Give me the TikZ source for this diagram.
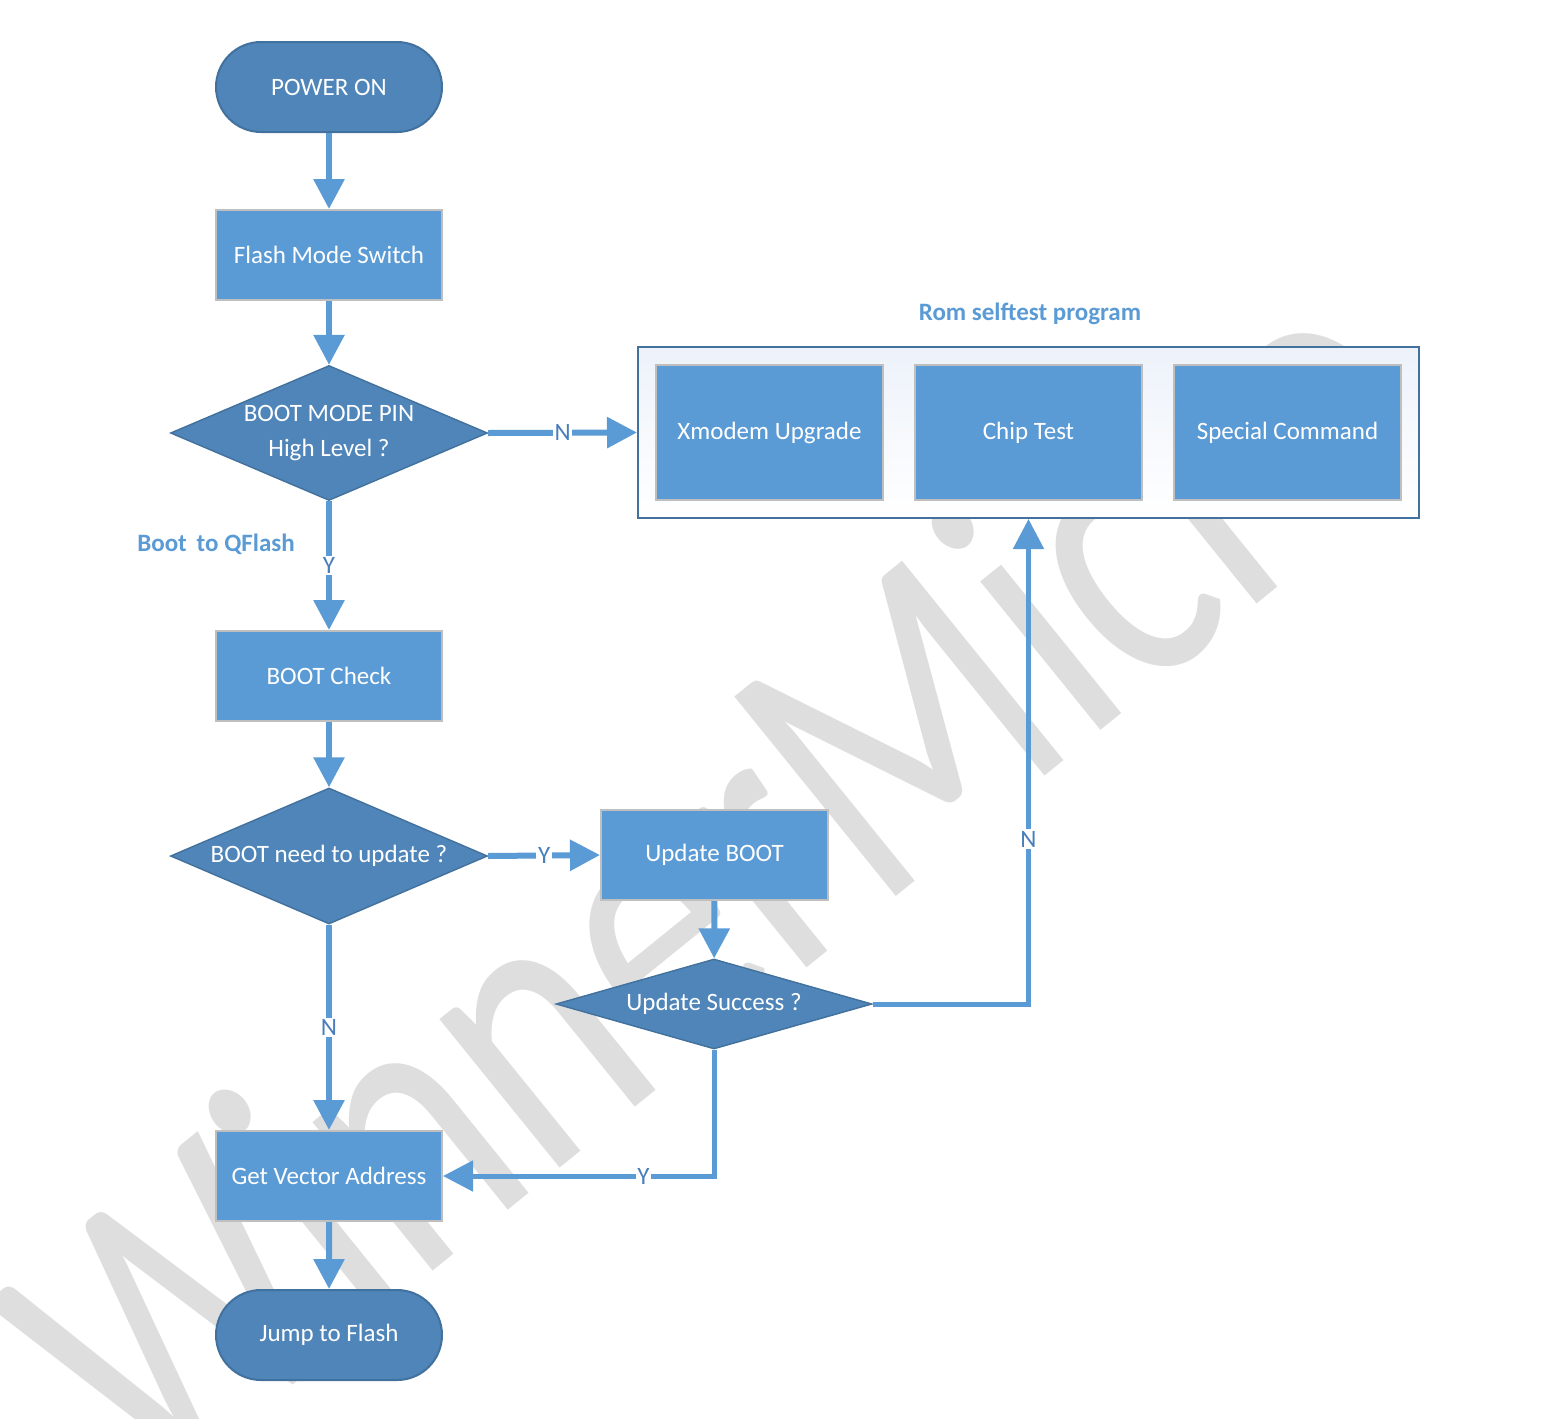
\documentclass[tikz,border=0pt]{standalone}
\usepackage{fontspec}
\setmainfont{Carlito}
\newfontfamily\wmfont[FakeStretch=0.78]{Carlito}
\usetikzlibrary{shapes.geometric,shapes.misc,arrows.meta}
\definecolor{darkfill}{HTML}{4F85B9}
\definecolor{darkline}{HTML}{41719C}
\definecolor{boxfill}{HTML}{5B9BD5}
\definecolor{boxline}{HTML}{BFBFBF}
\definecolor{arrowc}{HTML}{5B9BD5}
\definecolor{labc}{HTML}{4A7EBB}
\definecolor{titlec}{HTML}{5B9BD5}
\definecolor{wmc}{HTML}{DEDEDE}
\definecolor{romtint}{HTML}{EDF2FA}
\begin{document}
\begin{tikzpicture}[x=0.5pt,y=-0.5pt,
  txt/.style={font=\fontsize{12.5}{17.5}\selectfont},
  term/.style={txt, rounded rectangle, fill=darkfill, draw=darkline, line width=1pt,
    minimum width=113pt, minimum height=45pt, text=white, inner sep=0pt},
  proc/.style={txt, rectangle, fill=boxfill, draw=boxline, line width=1pt,
    minimum width=113pt, minimum height=45pt, text=white, inner sep=0pt},
  dec/.style={txt, diamond, fill=darkfill, draw=darkline, line width=0.7pt,
    inner sep=0pt, text=white, align=center},
  flow/.style={draw=arrowc, line width=3pt, -{Triangle[width=15pt,length=15pt]}},
  flowthin/.style={draw=arrowc, line width=2.5pt, -{Triangle[width=15pt,length=15pt]}},
  lab/.style={txt, fill=white, text=labc, inner sep=0.8pt},
  ttl/.style={font=\bfseries\fontsize{12.5}{15}\selectfont, text=titlec, inner sep=0pt}
]
\useasboundingbox (0,0) rectangle (1549,1419);
\fill[white] (0,0) rectangle (1549,1419);

% watermark
\node[text=wmc, font=\wmfont\fontsize{200}{200}\selectfont, rotate=39, inner sep=0pt] (wmk) at (712,870) {WinnerMicro};

% nodes
\node[term] (pwr) at (329,87) {POWER ON};
\node[proc] (fms) at (329,255) {Flash Mode Switch};
\node[dec, aspect=2.35, minimum width=158.5pt, minimum height=67.5pt] (bmp) at (329,433) {BOOT MODE PIN\\High Level ?};

\node[draw=darkline, line width=1pt, top color=romtint, bottom color=white,
  minimum width=390.5pt, minimum height=85.5pt, inner sep=0pt] (rom) at (1028.5,432.5) {};
\node[ttl] (romt) at (1030,314) {Rom selftest program};
\node[proc, minimum width=113.5pt, minimum height=67.5pt] (xm) at (769.5,432.5) {Xmodem Upgrade};
\node[proc, minimum width=113.5pt, minimum height=67.5pt] (ct) at (1028.5,432.5) {Chip Test};
\node[proc, minimum width=113.5pt, minimum height=67.5pt] (sc) at (1287.5,432.5) {Special Command};

\node[ttl] (bq) at (216,544) {Boot\, to QFlash};

\node[proc] (bc) at (329,676) {BOOT Check};
\node[dec, aspect=2.35, minimum width=158.5pt, minimum height=68pt] (bnu) at (329,856) {BOOT need to update ?};
\node[proc, minimum width=113.5pt] (ub) at (714.5,855) {Update BOOT};
\node[dec, aspect=3.5, minimum width=158pt, minimum height=45pt] (us) at (714,1004) {Update Success ?};
\node[proc] (gva) at (329,1176) {Get Vector Address};
\node[term] (jtf) at (329,1335) {Jump to Flash};

% connectors
\draw[flow] (pwr) -- (fms);
\draw[flow] (fms) -- (bmp);
\draw[flow] (bmp.east) -- node[lab]{N} (rom.west);
\draw[flow] (bmp.south) -- node[lab]{Y} (bc.north);
\draw[flow] (bc) -- (bnu);
\draw[flow] (bnu.east) -- node[lab]{Y} (ub.west);
\draw[flow] (ub) -- (us);
\draw[flowthin] (us.east) -| node[lab, pos=0.67]{N} (rom.south);
\draw[flowthin] (us.south) |- node[lab, pos=0.63]{Y} (gva.east);
\draw[flow] (bnu.south) -- node[lab]{N} (gva.north);
\draw[flow] (gva) -- (jtf);
\end{tikzpicture}
\end{document}
